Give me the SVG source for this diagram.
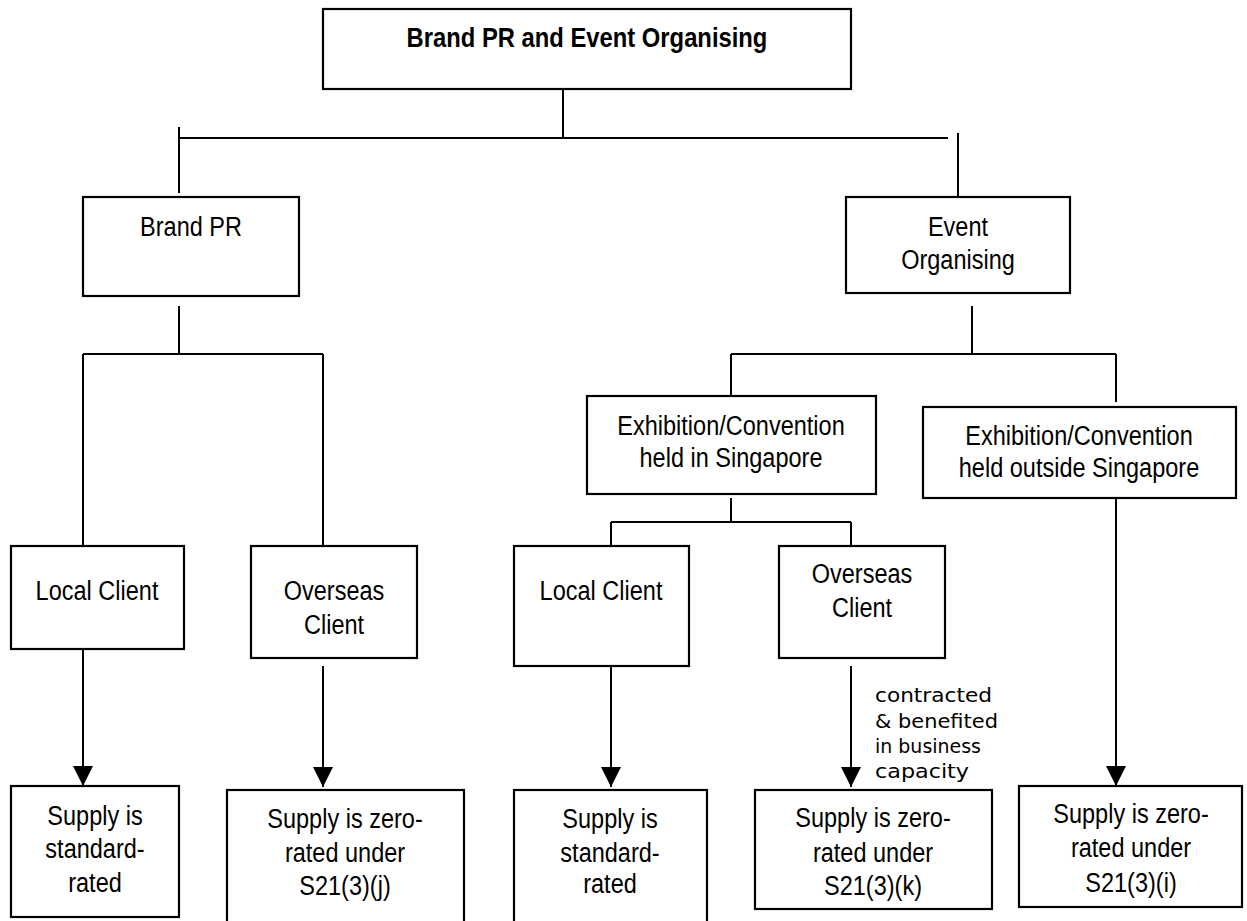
<svg xmlns="http://www.w3.org/2000/svg" width="1247" height="921" viewBox="0 0 1247 921">
<style>
  .box { fill: #ffffff; stroke: #000000; stroke-width: 2.2; }
  .ln { fill: none; stroke: #000000; stroke-width: 2; }
  .ar { fill: none; stroke: #000000; stroke-width: 2; marker-end: url(#arrow); }
  .t { font-family: "Liberation Sans", Arial, sans-serif; font-size: 28px; fill: #000000; text-anchor: middle; }
  .tb { font-family: "Liberation Sans", Arial, sans-serif; font-size: 28px; font-weight: bold; fill: #000000; text-anchor: middle; }
  .lab { font-family: "DejaVu Sans", sans-serif; font-size: 19px; fill: #000000; }
</style>
<defs>
  <marker id="arrow" viewBox="0 0 20 20" refX="20" refY="10" markerWidth="20" markerHeight="20" markerUnits="userSpaceOnUse" orient="auto">
    <path d="M0,0 L20,10 L0,20 z" fill="#000000"/>
  </marker>
</defs>

<g id="connectors">
  <line class="ln" x1="563" y1="89" x2="563" y2="138"/>
  <line class="ln" x1="179" y1="138" x2="948" y2="138"/>
  <line class="ln" x1="179" y1="127" x2="179" y2="193"/>
  <line class="ln" x1="958" y1="133" x2="958" y2="197"/>
  <line class="ln" x1="179" y1="306" x2="179" y2="354"/>
  <line class="ln" x1="83" y1="354" x2="323" y2="354"/>
  <line class="ln" x1="83" y1="354" x2="83" y2="546"/>
  <line class="ln" x1="323" y1="354" x2="323" y2="546"/>
  <line class="ln" x1="972" y1="306" x2="972" y2="354"/>
  <line class="ln" x1="731" y1="354" x2="1116" y2="354"/>
  <line class="ln" x1="731" y1="354" x2="731" y2="402"/>
  <line class="ln" x1="1116" y1="354" x2="1116" y2="402"/>
  <line class="ln" x1="731" y1="498" x2="731" y2="522"/>
  <line class="ln" x1="611" y1="522" x2="851" y2="522"/>
  <line class="ln" x1="611" y1="522" x2="611" y2="546"/>
  <line class="ln" x1="851" y1="522" x2="851" y2="546"/>
  <line class="ar" x1="83" y1="642" x2="83" y2="786"/>
  <line class="ar" x1="323" y1="666" x2="323" y2="787"/>
  <line class="ar" x1="611" y1="666" x2="611" y2="787"/>
  <line class="ar" x1="851" y1="666" x2="851" y2="787"/>
  <line class="ar" x1="1116" y1="498" x2="1116" y2="786"/>
  <text class="lab" x="875" y="702" textLength="117" lengthAdjust="spacingAndGlyphs">contracted</text>
  <text class="lab" x="875" y="728" textLength="123" lengthAdjust="spacingAndGlyphs">&amp; benefited</text>
  <text class="lab" x="875" y="753" textLength="106" lengthAdjust="spacingAndGlyphs">in business</text>
  <text class="lab" x="875" y="778" textLength="94" lengthAdjust="spacingAndGlyphs">capacity</text>
</g>

<g id="root">
  <rect class="box" x="323" y="9" width="528" height="80"/>
  <text class="tb" transform="translate(587 47) scale(0.85 1)">Brand PR and Event Organising</text>
</g>

<g id="brand-pr">
  <rect class="box" x="83" y="197" width="216" height="99"/>
  <text class="t" transform="translate(191 236) scale(0.84 1)">Brand PR</text>
</g>

<g id="event-organising">
  <rect class="box" x="846" y="197" width="224" height="96"/>
  <text class="t" transform="translate(958 236) scale(0.84 1)">Event</text>
  <text class="t" transform="translate(958 269) scale(0.84 1)">Organising</text>
</g>

<g id="exhibition-in-singapore">
  <rect class="box" x="587" y="396" width="289" height="98"/>
  <text class="t" transform="translate(731 435) scale(0.84 1)">Exhibition/Convention</text>
  <text class="t" transform="translate(731 467) scale(0.84 1)">held in Singapore</text>
</g>

<g id="exhibition-outside-singapore">
  <rect class="box" x="923" y="407" width="313" height="91"/>
  <text class="t" transform="translate(1079 445) scale(0.84 1)">Exhibition/Convention</text>
  <text class="t" transform="translate(1079 477) scale(0.84 1)">held outside Singapore</text>
</g>

<g id="local-client-1">
  <rect class="box" x="11" y="546" width="173" height="103"/>
  <text class="t" transform="translate(97 600) scale(0.84 1)">Local Client</text>
</g>

<g id="overseas-client-1">
  <rect class="box" x="251" y="546" width="166" height="112"/>
  <text class="t" transform="translate(334 600) scale(0.84 1)">Overseas</text>
  <text class="t" transform="translate(334 634) scale(0.84 1)">Client</text>
</g>

<g id="local-client-2">
  <rect class="box" x="514" y="546" width="175" height="120"/>
  <text class="t" transform="translate(601 600) scale(0.84 1)">Local Client</text>
</g>

<g id="overseas-client-2">
  <rect class="box" x="779" y="546" width="166" height="112"/>
  <text class="t" transform="translate(862 583) scale(0.84 1)">Overseas</text>
  <text class="t" transform="translate(862 617) scale(0.84 1)">Client</text>
</g>

<g id="result-1">
  <rect class="box" x="11" y="786" width="168" height="131"/>
  <text class="t" transform="translate(95 825) scale(0.84 1)">Supply is</text>
  <text class="t" transform="translate(95 858) scale(0.84 1)">standard-</text>
  <text class="t" transform="translate(95 892) scale(0.84 1)">rated</text>
</g>

<g id="result-2">
  <rect class="box" x="227" y="790" width="237" height="140"/>
  <text class="t" transform="translate(345 828) scale(0.84 1)">Supply is zero-</text>
  <text class="t" transform="translate(345 862) scale(0.84 1)">rated under</text>
  <text class="t" transform="translate(345 895) scale(0.84 1)">S21(3)(j)</text>
</g>

<g id="result-3">
  <rect class="box" x="514" y="790" width="193" height="140"/>
  <text class="t" transform="translate(610 828) scale(0.84 1)">Supply is</text>
  <text class="t" transform="translate(610 862) scale(0.84 1)">standard-</text>
  <text class="t" transform="translate(610 893) scale(0.84 1)">rated</text>
</g>

<g id="result-4">
  <rect class="box" x="755" y="790" width="237" height="119"/>
  <text class="t" transform="translate(873 827) scale(0.84 1)">Supply is zero-</text>
  <text class="t" transform="translate(873 862) scale(0.84 1)">rated under</text>
  <text class="t" transform="translate(873 895) scale(0.84 1)">S21(3)(k)</text>
</g>

<g id="result-5">
  <rect class="box" x="1019" y="786" width="223" height="121"/>
  <text class="t" transform="translate(1131 823) scale(0.84 1)">Supply is zero-</text>
  <text class="t" transform="translate(1131 857) scale(0.84 1)">rated under</text>
  <text class="t" transform="translate(1131 892) scale(0.84 1)">S21(3)(i)</text>
</g>
</svg>
